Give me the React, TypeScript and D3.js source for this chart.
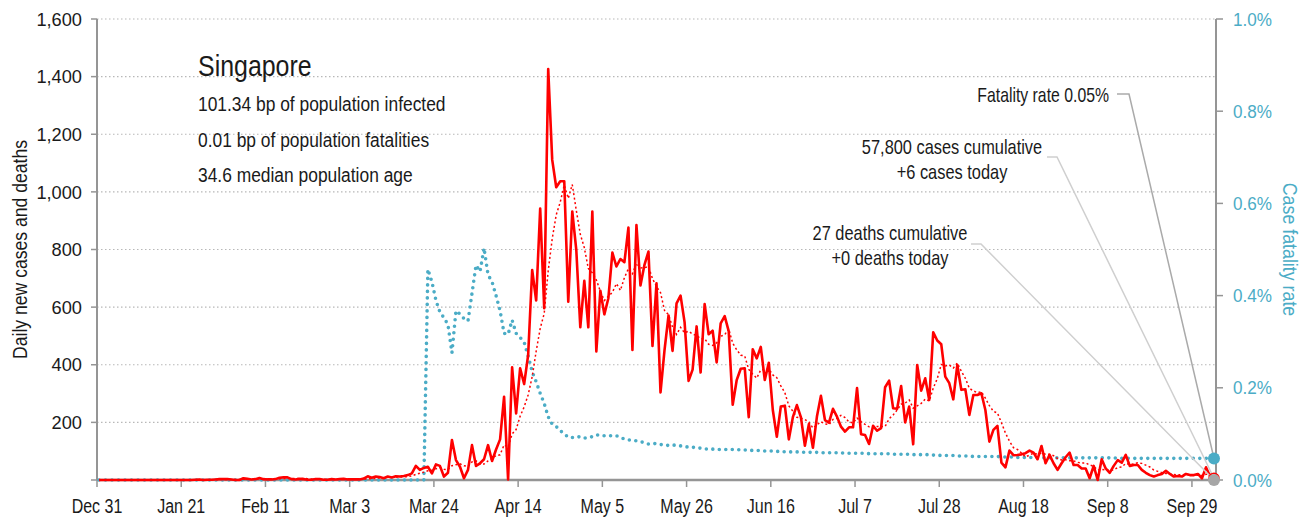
import React from 'react';
import * as d3 from 'd3';

// ---------- data ----------
const startDate = '2019-12-31';
const endDate = '2020-10-05';
const countryName = 'Singapore';
const infoLines = [
  '101.34 bp of population infected',
  '0.01 bp of population fatalities',
  '34.6 median population age',
];

// daily new cases, one per day from Dec 31
const cases = [
  0, 0, 0, 0, 0, 0, 0, 0, 0, 0, 0, 0, 0, 0, 0, 0, 0, 0, 0, 0, 0, 0, 0, 0,
  1, 2, 0, 1, 1, 2, 3, 3, 3, 2, 0, 0, 6, 4, 2, 3, 7, 3, 2, 2, 3, 8, 9, 9, 3, 2,
  4, 3, 1, 1, 3, 3, 1, 1, 3, 2, 3, 4, 2, 2, 2, 2, 5, 13, 8, 12, 10, 6, 12, 9, 13, 12, 14, 17, 23,
  49, 35, 42, 46, 23, 54, 49, 12, 25, 139, 69, 46, 6, 35, 121, 49, 58, 72, 121, 66, 106, 141,
  289, 2, 391, 231, 388, 333, 434, 729, 623, 942, 596, 1426, 1111, 1016, 1037, 1037, 619, 932,
  799, 530, 691, 530, 932, 446, 657, 575, 631, 789, 741, 767, 756, 876, 451, 885, 675, 747, 793,
  465, 683, 304, 451, 571, 448, 613, 640, 548, 344, 383, 533, 373, 611, 506, 518, 408, 544, 569,
  517, 261, 347, 386, 388, 218, 454, 422, 462, 347, 407, 243, 150, 255, 258, 141, 218, 260, 218,
  119, 194, 112, 220, 292, 208, 199, 247, 220, 185, 168, 183, 183, 319, 159, 156, 125, 188, 171,
  180, 322, 345, 249, 247, 326, 200, 255, 124, 399, 310, 353, 278, 513, 484, 471, 359, 336, 280,
  399, 313, 315, 226, 295, 295, 301, 243, 133, 174, 188, 60, 44, 102, 86, 87, 89, 93, 102, 95, 72,
  118, 58, 87, 58, 35, 58, 79, 95, 52, 52, 40, 40, 6, 49, 0, 72, 40, 25, 49, 69, 60, 87, 49, 52,
  52, 35, 25, 17, 12, 17, 21, 32, 21, 12, 14, 12, 21, 17, 17, 21, 6, 44, 14, 6,
];

// case fatality rate in percent, one per day from Dec 31
const cfr = [
  0, 0, 0, 0, 0, 0, 0, 0, 0, 0, 0, 0, 0, 0, 0, 0, 0, 0, 0, 0, 0, 0, 0, 0, 0, 0, 0,
  0, 0, 0, 0, 0, 0, 0, 0, 0, 0, 0, 0, 0, 0, 0, 0, 0, 0, 0, 0, 0, 0, 0, 0, 0, 0, 0,
  0, 0, 0, 0, 0, 0, 0, 0, 0, 0, 0, 0, 0, 0, 0, 0, 0, 0, 0, 0, 0, 0, 0, 0, 0, 0, 0, 0,
  0.457, 0.43, 0.39, 0.364, 0.352, 0.337, 0.276, 0.367, 0.36, 0.35, 0.345, 0.405, 0.466,
  0.452, 0.503, 0.445, 0.43, 0.4, 0.367, 0.318, 0.316, 0.347, 0.318, 0.309, 0.299, 0.269,
  0.235, 0.213, 0.188, 0.166, 0.137, 0.121, 0.116, 0.107, 0.1, 0.093, 0.092, 0.093, 0.094,
  0.091, 0.092, 0.094, 0.098, 0.097, 0.096, 0.096, 0.096, 0.096, 0.092, 0.089, 0.087, 0.086,
  0.085, 0.083, 0.081, 0.078, 0.079, 0.079, 0.077, 0.076, 0.075, 0.076, 0.075, 0.074, 0.073,
  0.071, 0.071, 0.07, 0.069, 0.068, 0.0665, 0.067, 0.066, 0.066, 0.066, 0.066, 0.066, 0.066,
  0.065, 0.065, 0.065, 0.064, 0.064, 0.064, 0.063, 0.063, 0.063, 0.062, 0.062, 0.061, 0.061,
  0.061, 0.061, 0.061, 0.06, 0.06, 0.06, 0.06, 0.059, 0.059, 0.059, 0.059, 0.059, 0.059,
  0.058, 0.058, 0.058, 0.058, 0.058, 0.058, 0.057, 0.057, 0.057, 0.057, 0.057, 0.057, 0.056,
  0.056, 0.056, 0.056, 0.056, 0.055, 0.055, 0.055, 0.055, 0.055, 0.054, 0.054, 0.053, 0.053,
  0.053, 0.053, 0.052, 0.052, 0.052, 0.052, 0.051, 0.051, 0.051, 0.051, 0.051, 0.051, 0.051,
  0.05, 0.05, 0.05, 0.05, 0.049, 0.049, 0.049, 0.049, 0.048, 0.048, 0.048, 0.048, 0.048,
  0.048, 0.048, 0.048, 0.048, 0.048, 0.048, 0.048, 0.048, 0.048, 0.048, 0.048, 0.048, 0.048,
  0.048, 0.048, 0.048, 0.047, 0.047, 0.047, 0.047, 0.047, 0.047, 0.047, 0.047, 0.047, 0.047,
  0.047, 0.047, 0.047, 0.047, 0.047, 0.047, 0.047, 0.047, 0.047, 0.047, 0.047, 0.047, 0.047,
  0.047, 0.0467,
];

const xTickDates = [
  '2019-12-31', '2020-01-21', '2020-02-11', '2020-03-03', '2020-03-24', '2020-04-14', '2020-05-05',
  '2020-05-26', '2020-06-16', '2020-07-07', '2020-07-28', '2020-08-18', '2020-09-08', '2020-09-29',
];
const leftTicks = [0, 200, 400, 600, 800, 1000, 1200, 1400, 1600];
const rightTicks = [0, 0.2, 0.4, 0.6, 0.8, 1.0];

const fatalityLabel = 'Fatality rate 0.05%';
const casesLabels = ['57,800 cases cumulative', '+6 cases today'];
const deathsLabels = ['27 deaths cumulative', '+0 deaths today'];
const leftAxisTitle = 'Daily new cases and deaths';
const rightAxisTitle = 'Case fatality rate';

// ---------- styles ----------
const FONT = "'Liberation Sans', Arial, sans-serif";
const RED = '#ff0000';
const TEAL = '#4bacc6';
const AXIS = '#959595';
const TEXT = '#1a1a1a';

const W = 1314;
const H = 520;
const M = { left: 97, right: 1216, top: 19, bottom: 480 };

type TProps = {
  x: number;
  y: number;
  sx?: number;
  rot?: number;
  anchor?: 'start' | 'middle' | 'end';
  size?: number;
  fill?: string;
  dy?: string;
  children: React.ReactNode;
};

// condensed text: horizontal squeeze to imitate the narrow face of the original
function T({ x, y, sx = 0.82, rot = 0, anchor = 'start', size = 20, fill = TEXT, dy, children }: TProps) {
  return (
    <text
      transform={`translate(${x},${y}) rotate(${rot}) scale(${sx},1)`}
      textAnchor={anchor}
      fontSize={size}
      fill={fill}
      dy={dy}
    >
      {children}
    </text>
  );
}

export default function App() {
  const parse = d3.utcParse('%Y-%m-%d');
  const t0 = parse(startDate)!;
  const dayMs = 86400000;
  const dateAt = (i: number) => new Date(t0.getTime() + i * dayMs + dayMs / 2);

  const x = d3.scaleUtc().domain([t0, parse(endDate)!]).range([M.left, M.right]);
  const yL = d3.scaleLinear().domain([0, 1600]).range([M.bottom, M.top]);
  const yR = d3.scaleLinear().domain([0, 1.0]).range([M.bottom, M.top]);

  const ma = cases.map((_, i) => d3.mean(cases.slice(Math.max(0, i - 6), i + 1)) as number);

  const lineL = d3
    .line<number>()
    .x((_, i) => x(dateAt(i)))
    .y((v) => yL(v));
  const lineR = d3
    .line<number>()
    .x((_, i) => x(dateAt(i)))
    .y((v) => yR(v));

  const last = cases.length - 1;
  const ex = x(dateAt(last));
  const eyCfr = yR(cfr[cfr.length - 1]);
  const eyCases = yL(cases[last]);
  const eyDeaths = yL(0);
  const fmt = d3.utcFormat('%b %-d');
  const fmtL = d3.format(',');

  return (
    <svg
      width={W}
      height={H}
      style={{ position: 'absolute', left: 0, top: 0, background: '#fff' }}
      fontFamily={FONT}
    >
      {/* gridlines */}
      {leftTicks
        .filter((t) => t > 0)
        .map((t) => (
          <line
            key={'g' + t}
            x1={M.left}
            x2={M.right}
            y1={yL(t)}
            y2={yL(t)}
            stroke="#b8b8b8"
            strokeWidth={1.2}
            strokeDasharray="1.5,2.5"
          />
        ))}

      {/* left axis */}
      <line x1={M.left} x2={M.left} y1={M.top} y2={M.bottom} stroke={AXIS} strokeWidth={2} />
      {leftTicks.map((t) => (
        <g key={'l' + t}>
          <line x1={M.left - 6} x2={M.left} y1={yL(t)} y2={yL(t)} stroke={AXIS} strokeWidth={1.5} />
          {t > 0 && (
            <T x={82} y={yL(t)} dy="0.35em" anchor="end" size={19} sx={0.96}>
              {fmtL(t)}
            </T>
          )}
        </g>
      ))}
      <T x={27} y={(M.top + M.bottom) / 2} rot={-90} anchor="middle" size={20} sx={0.88}>
        {leftAxisTitle}
      </T>

      {/* right axis */}
      <line x1={M.right} x2={M.right} y1={M.top} y2={M.bottom} stroke={AXIS} strokeWidth={2} />
      {rightTicks.map((t) => (
        <g key={'r' + t}>
          <line x1={M.right} x2={M.right + 7} y1={yR(t)} y2={yR(t)} stroke={AXIS} strokeWidth={1.5} />
          <T x={1233} y={yR(t)} dy="0.35em" anchor="start" size={19} sx={0.9} fill={TEAL}>
            {t.toFixed(1) + '%'}
          </T>
        </g>
      ))}
      <T x={1283} y={(M.top + M.bottom) / 2} rot={90} anchor="middle" size={20} sx={0.89} fill={TEAL}>
        {rightAxisTitle}
      </T>

      {/* x axis */}
      <line x1={M.left} x2={M.right} y1={M.bottom} y2={M.bottom} stroke={AXIS} strokeWidth={2.5} />
      {xTickDates.map((s) => {
        const d = parse(s)!;
        return (
          <g key={s}>
            <line x1={x(d)} x2={x(d)} y1={M.bottom} y2={M.bottom + 7} stroke={AXIS} strokeWidth={1.5} />
            <T x={x(d)} y={513} anchor="middle" size={20} sx={0.8}>
              {fmt(d)}
            </T>
          </g>
        );
      })}

      {/* series */}
      <path
        d={lineR(cfr) || ''}
        fill="none"
        stroke={TEAL}
        strokeWidth={3.6}
        strokeLinecap="round"
        strokeDasharray="0,6.5"
      />
      <path
        d={lineL(ma) || ''}
        fill="none"
        stroke={RED}
        strokeWidth={1.5}
        strokeDasharray="2,2.5"
      />
      <path d={lineL(cases) || ''} fill="none" stroke={RED} strokeWidth={2.6} strokeLinejoin="round" />

      {/* title block */}
      <T x={198} y={76} size={29} sx={0.86}>
        {countryName}
      </T>
      {infoLines.map((s, i) => (
        <T key={s} x={198} y={111 + i * 35.5} size={20} sx={0.87}>
          {s}
        </T>
      ))}

      {/* annotations */}
      <polyline
        points={`1117,94 1129,94 ${ex},${eyCfr}`}
        fill="none"
        stroke="#aaaaaa"
        strokeWidth={1.5}
      />
      <polyline
        points={`1047,157 1057,157 ${ex},${eyCases}`}
        fill="none"
        stroke="#cfcfcf"
        strokeWidth={1.5}
      />
      <polyline
        points={`971,244 981,244 ${ex},${eyDeaths}`}
        fill="none"
        stroke="#cfcfcf"
        strokeWidth={1.5}
      />
      <T x={1109} y={102} anchor="end" size={20} sx={0.79}>
        {fatalityLabel}
      </T>
      {casesLabels.map((s, i) => (
        <T key={s} x={952} y={154 + i * 24.5} anchor="middle" size={20} sx={0.82}>
          {s}
        </T>
      ))}
      {deathsLabels.map((s, i) => (
        <T key={s} x={890} y={240 + i * 24.5} anchor="middle" size={20} sx={0.82}>
          {s}
        </T>
      ))}

      {/* end markers */}
      <circle cx={ex} cy={eyCfr} r={6} fill={TEAL} />
      <circle cx={ex} cy={eyCases} r={5} fill="none" stroke={RED} strokeWidth={1.5} />
      <circle cx={ex} cy={eyDeaths} r={6} fill="#a6a6a6" />
    </svg>
  );
}
